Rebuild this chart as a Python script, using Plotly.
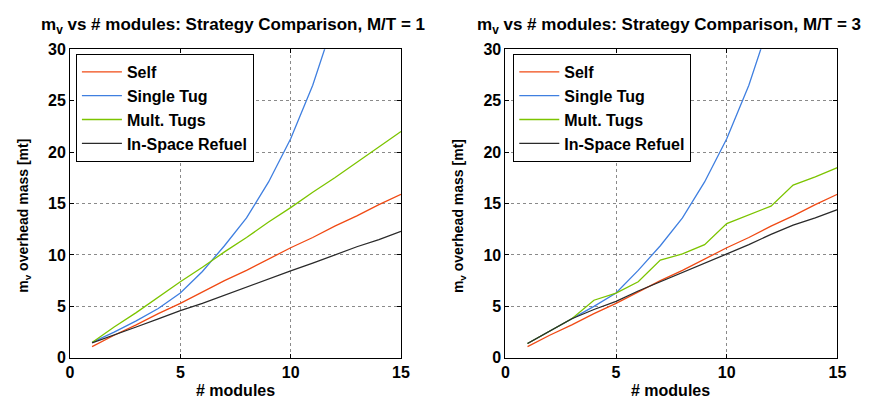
import plotly.graph_objects as go

modules = list(range(1, 16))
tug_modules = list(range(1, 13))

# Left panel: M/T = 1
self_mt1 = [1.1, 2.2, 3.2, 4.3, 5.3, 6.4, 7.5, 8.5, 9.6, 10.7, 11.7, 12.8, 13.8, 14.9, 15.9]
single_mt1 = [1.5, 2.5, 3.6, 4.8, 6.3, 8.4, 10.9, 13.6, 17.1, 21.3, 26.5, 33.0]
mult_mt1 = [1.5, 3.0, 4.4, 5.9, 7.4, 8.8, 10.3, 11.7, 13.2, 14.6, 16.1, 17.5, 19.0, 20.5, 22.0]
refuel_mt1 = [1.45, 2.2, 3.0, 3.8, 4.6, 5.3, 6.1, 6.9, 7.7, 8.45, 9.2, 10.0, 10.8, 11.5, 12.3]

# Right panel: M/T = 3
self_mt3 = [1.1, 2.2, 3.2, 4.3, 5.3, 6.4, 7.5, 8.5, 9.6, 10.7, 11.7, 12.8, 13.8, 14.9, 15.9]
single_mt3 = [1.4, 2.6, 3.8, 5.0, 6.3, 8.5, 10.9, 13.6, 17.1, 21.3, 26.5, 33.0]
mult_mt3 = [1.4, 2.6, 3.8, 5.6, 6.3, 7.4, 9.5, 10.1, 11.0, 13.05, 13.9, 14.75, 16.8, 17.6, 18.5]
refuel_mt3 = [1.4, 2.6, 3.8, 4.7, 5.5, 6.5, 7.4, 8.3, 9.2, 10.1, 11.0, 12.0, 12.9, 13.6, 14.4]

names = ["Self", "Single Tug", "Mult. Tugs", "In-Space Refuel"]
colors = ["#f04a14", "#3f7fe0", "#7cc400", "#2a2a2a"]

titles = ["m<sub>v</sub> vs # modules: Strategy Comparison, M/T = 1",
          "m<sub>v</sub> vs # modules: Strategy Comparison, M/T = 3"]
x_ticks = [0, 5, 10, 15]
y_ticks = [0, 5, 10, 15, 20, 25, 30]

W, H = 872, 410
FONT = "Liberation Sans, Arial, sans-serif"

fig = go.Figure()

panels = [
    ("x", "y", "legend", [self_mt1, single_mt1, mult_mt1, refuel_mt1]),
    ("x2", "y2", "legend2", [self_mt3, single_mt3, mult_mt3, refuel_mt3]),
]
for xa, ya, lg, series in panels:
    for i, (nm, col, vals) in enumerate(zip(names, colors, series)):
        xs = tug_modules if nm == "Single Tug" else modules
        fig.add_trace(go.Scatter(
            x=xs, y=vals, mode="lines", name=nm,
            line=dict(color=col, width=1.3),
            xaxis=xa, yaxis=ya, legend=lg,
            legendgroup=f"{lg}-{i}", showlegend=True,
        ))

px = lambda p: p / W
py = lambda p: 1 - p / H

axis_common = dict(
    showline=True, linecolor="black", linewidth=1, mirror="ticks",
    ticks="inside", ticklen=4, tickcolor="black",
    showgrid=True, gridcolor="#8a8a8a", griddash="dot", gridwidth=1,
    zeroline=False,
    tickfont=dict(family=FONT, size=16, color="black", weight="bold"),
)

legend_common = dict(
    bgcolor="white", bordercolor="black", borderwidth=1,
    font=dict(family=FONT, size=16, color="black", weight="bold"),
    xanchor="left", yanchor="top", tracegroupgap=0,
    itemwidth=40,
)

fig.update_layout(
    width=W, height=H,
    margin=dict(l=0, r=0, t=0, b=0),
    paper_bgcolor="white", plot_bgcolor="white",
    font=dict(family=FONT, size=16, color="black", weight="bold"),
    xaxis=dict(domain=[px(67), px(403)], range=[0, 15], tickvals=x_ticks, anchor="y", **axis_common),
    yaxis=dict(domain=[1 - 365 / H, 1 - 43 / H], range=[0, 30], tickvals=y_ticks, anchor="x", **axis_common),
    xaxis2=dict(domain=[px(509), px(846)], range=[0, 15], tickvals=x_ticks, anchor="y2", **axis_common),
    yaxis2=dict(domain=[1 - 365 / H, 1 - 43 / H], range=[0, 30], tickvals=y_ticks, anchor="x2", **axis_common),
    legend=dict(x=px(73), y=py(48), **legend_common),
    legend2=dict(x=px(517), y=py(48), **legend_common),
)

annotations = []
for cx, t in zip([232, 675], titles):
    annotations.append(dict(text=t, x=px(cx), y=py(19), xref="paper", yref="paper",
                            showarrow=False, xanchor="center", yanchor="middle",
                            font=dict(family=FONT, size=17, color="black", weight="bold")))
for cx in [235, 677]:
    annotations.append(dict(text="# modules", x=px(cx), y=py(399), xref="paper", yref="paper",
                            showarrow=False, xanchor="center", yanchor="middle",
                            font=dict(family=FONT, size=16, color="black", weight="bold")))
for cx in [20, 462]:
    annotations.append(dict(text="m<sub>v</sub> overhead mass [mt]", x=px(cx), y=py(217),
                            xref="paper", yref="paper", textangle=-90,
                            showarrow=False, xanchor="center", yanchor="middle",
                            font=dict(family=FONT, size=14, color="black", weight="bold")))
fig.update_layout(annotations=annotations)

fig.write_html("out.html")
